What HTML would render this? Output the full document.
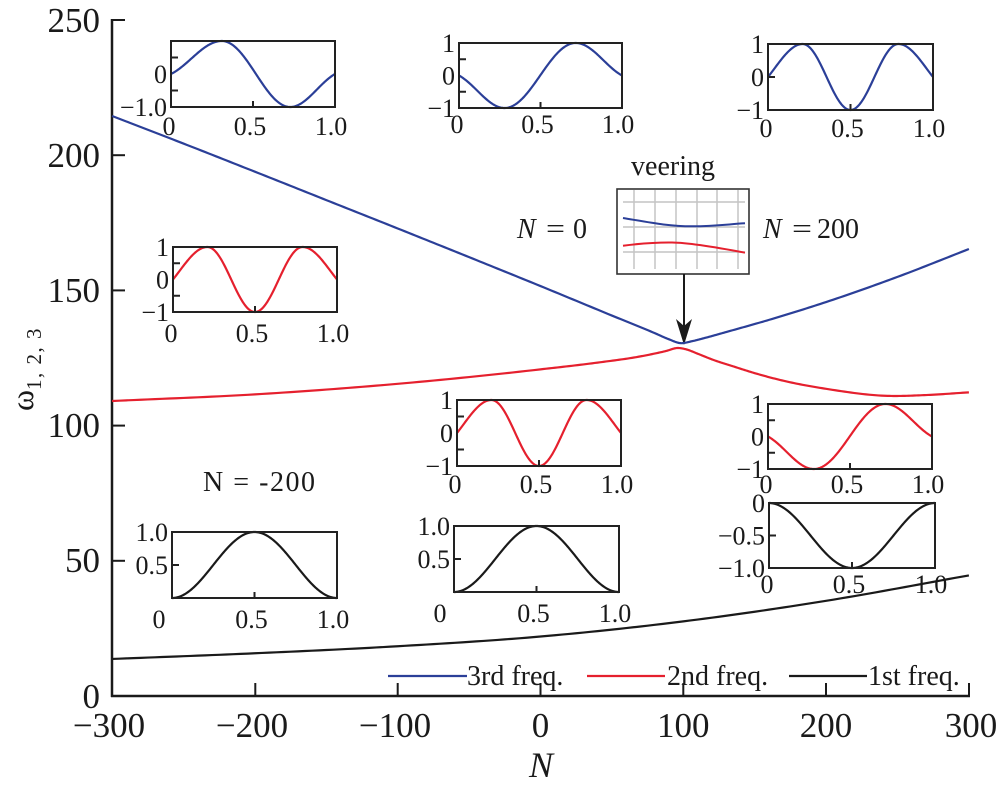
<!DOCTYPE html>
<html>
<head>
<meta charset="utf-8">
<style>
html,body{margin:0;padding:0;background:#fff;}
svg{display:block;}
text{font-family:"Liberation Serif","DejaVu Serif",serif;fill:#1a1a1a;}
</style>
</head>
<body>
<svg id="s" width="999" height="789" viewBox="0 0 999 789" xmlns="http://www.w3.org/2000/svg">
<rect x="0" y="0" width="999" height="789" fill="#fff"/>
<!-- axes -->
<g stroke="#1a1a1a" stroke-width="2.5" fill="none">
<line x1="112" y1="19" x2="112" y2="697"/>
<line x1="111" y1="696" x2="970" y2="696"/>
</g>
<g stroke="#1a1a1a" stroke-width="2" fill="none">
<line x1="112" y1="20" x2="125" y2="20"/>
<line x1="112" y1="155.2" x2="125" y2="155.2"/>
<line x1="112" y1="290.4" x2="125" y2="290.4"/>
<line x1="112" y1="425.6" x2="125" y2="425.6"/>
<line x1="112" y1="560.8" x2="125" y2="560.8"/>
<line x1="255.3" y1="696" x2="255.3" y2="683"/>
<line x1="397.7" y1="696" x2="397.7" y2="683"/>
<line x1="540.5" y1="696" x2="540.5" y2="683"/>
<line x1="683.3" y1="696" x2="683.3" y2="683"/>
<line x1="826" y1="696" x2="826" y2="683"/>
<line x1="969" y1="696" x2="969" y2="683"/>
</g>
<g font-size="35" text-anchor="end">
<text x="100" y="32">250</text>
<text x="100" y="167">200</text>
<text x="100" y="302">150</text>
<text x="100" y="437">100</text>
<text x="100" y="572">50</text>
<text x="100" y="708">0</text>
</g>
<g font-size="35" text-anchor="middle">
<text x="109" y="737">−300</text>
<text x="252" y="737">−200</text>
<text x="395" y="737">−100</text>
<text x="540.5" y="737">0</text>
<text x="683.3" y="737">100</text>
<text x="826" y="737">200</text>
<text x="971" y="737">300</text>
</g>
<text x="541" y="777" font-size="36" font-style="italic" text-anchor="middle">N</text>
<text transform="translate(33,411) rotate(-90)" font-size="32">ω<tspan font-size="21" dy="8" letter-spacing="1.5">1, 2, 3</tspan></text>

<!-- legend -->
<g stroke-width="2.2">
<line x1="388" y1="676" x2="467" y2="676" stroke="#2b3f98"/>
<line x1="587" y1="676" x2="665" y2="676" stroke="#e5202e"/>
<line x1="789" y1="676" x2="867" y2="676" stroke="#1a1a1a"/>
</g>
<g font-size="28">
<text x="467" y="685">3rd freq.</text>
<text x="667" y="685">2nd freq.</text>
<text x="868" y="685">1st freq.</text>
</g>

<!-- annotations -->
<text x="673" y="175" font-size="28" text-anchor="middle">veering</text>
<text x="517" y="238" font-size="28" font-style="italic">N</text>
<text x="546" y="238" font-size="28" textLength="19" lengthAdjust="spacingAndGlyphs">=</text>
<text x="573" y="238" font-size="28">0</text>
<text x="763" y="238" font-size="28" font-style="italic">N</text>
<text x="792" y="238" font-size="28" textLength="20" lengthAdjust="spacingAndGlyphs">=</text>
<text x="817" y="238" font-size="28">200</text>
<text x="203" y="491" font-size="28" textLength="112" lengthAdjust="spacing">N = -200</text>

<!-- veering box -->
<rect x="617" y="189" width="132" height="85" fill="#fff" stroke="#333" stroke-width="1.6"/>
<g stroke="#c4c4c4" stroke-width="1.5">
<line x1="634" y1="190" x2="634" y2="269"/>
<line x1="655" y1="190" x2="655" y2="269"/>
<line x1="676" y1="190" x2="676" y2="269"/>
<line x1="697" y1="190" x2="697" y2="269"/>
<line x1="717" y1="190" x2="717" y2="269"/>
<line x1="738" y1="190" x2="738" y2="269"/>
<line x1="623" y1="202" x2="745" y2="202"/>
<line x1="623" y1="227" x2="745" y2="227"/>
<line x1="623" y1="252" x2="745" y2="252"/>
</g>
<path d="M623,218 C650,222.5 668,226.3 692,226.3 S730,224 745,223.3" fill="none" stroke="#2b3f98" stroke-width="2"/>
<path d="M623,245.7 C640,243.5 655,242.3 672,242.5 S715,247 745,252.7" fill="none" stroke="#e5202e" stroke-width="2"/>
<line x1="684" y1="274" x2="684" y2="326" stroke="#1a1a1a" stroke-width="2"/>
<polygon points="676,319 684,326 692,319 684,345" fill="#1a1a1a"/>

<g id="dyn"></g>
</svg>
<script>
(function(){
var NS='http://www.w3.org/2000/svg';
var g=document.getElementById('dyn');
function el(tag,attrs,text){var e=document.createElementNS(NS,tag);for(var k in attrs)e.setAttribute(k,attrs[k]);if(text!=null)e.textContent=text;g.appendChild(e);return e;}
function X(N){return 540.5+N*1.428;}
function Y(w){return 696-w*2.704;}
function herm(pts){
  var n=pts.length,m=[],i;
  for(i=0;i<n;i++){
    if(i==0)m.push((pts[1][1]-pts[0][1])/(pts[1][0]-pts[0][0]));
    else if(i==n-1)m.push((pts[n-1][1]-pts[n-2][1])/(pts[n-1][0]-pts[n-2][0]));
    else{
      var h0=pts[i][0]-pts[i-1][0],h1=pts[i+1][0]-pts[i][0];
      var d0=(pts[i][1]-pts[i-1][1])/h0,d1=(pts[i+1][1]-pts[i][1])/h1;
      m.push((d0*h1+d1*h0)/(h0+h1));
    }
  }
  var d='M'+X(pts[0][0]).toFixed(2)+','+Y(pts[0][1]).toFixed(2);
  for(i=0;i<n-1;i++){
    var x0=pts[i][0],x1=pts[i+1][0],y0=pts[i][1],y1=pts[i+1][1],h=x1-x0;
    for(var k=1;k<=20;k++){
      var t=k/20,t2=t*t,t3=t2*t;
      var v=(2*t3-3*t2+1)*y0+(t3-2*t2+t)*h*m[i]+(-2*t3+3*t2)*y1+(t3-t2)*h*m[i+1];
      d+=' L'+X(x0+h*t).toFixed(2)+','+Y(v).toFixed(2);
    }
  }
  return d;
}
var blue=[[-300,214.5],[-250,204.3],[-200,193.9],[-150,183.4],[-100,172.9],[-50,162.3],[0,151.6],[50,140.7],[80,134.2],[90,131.9],[98,130.5],[106,131.2],[115,132.4],[130,134.6],[160,139.1],[200,145.7],[250,155.0],[300,165.3]];
var red=[[-300,109.1],[-200,111.55],[-100,115.45],[0,120.8],[40,123.3],[70,125.6],[88,127.6],[96,128.7],[102,128.2],[110,126.6],[121,124.3],[135,121.9],[150,119.4],[170,116.6],[200,113.6],[243,111.0],[270,111.3],[300,112.3]];
var black=[[-300,13.7],[-200,15.8],[-100,18.4],[0,22.0],[100,27.6],[200,35.2],[300,44.6]];
el('path',{d:herm(blue),fill:'none',stroke:'#2b3f98','stroke-width':2.2});
el('path',{d:herm(red),fill:'none',stroke:'#e5202e','stroke-width':2.2});
el('path',{d:herm(black),fill:'none',stroke:'#1a1a1a','stroke-width':2.2});

function shape(pts,ext,w,t){
  for(var i=0;i<pts.length-1;i++){
    if(t<=pts[i+1][0]||i==pts.length-2){
      var s=(t-pts[i][0])/(pts[i+1][0]-pts[i][0]);var a=pts[i][1],b=pts[i+1][1],f;
      if(ext[i]&&ext[i+1])f=(1-Math.cos(Math.PI*s))/2;
      else if(!ext[i])f=w*Math.sin(Math.PI*s/2)+(1-w)*(1-Math.cos(Math.PI*s))/2;
      else f=w*(1-Math.cos(Math.PI*s/2))+(1-w)*(1-Math.cos(Math.PI*s))/2;
      return a+(b-a)*f;
    }
  }
  return 0;
}
var SH={
 A:{p:[[0,0],[0.31,1],[0.726,-1],[1,0]],e:[0,1,1,0],w:0.5},
 B:{p:[[0,0],[0.28,-1],[0.716,1],[1,0]],e:[0,1,1,0],w:0.5},
 C:{p:[[0,0],[0.21,1],[0.5,-1],[0.79,1],[1,0]],e:[0,1,1,1,0],w:0.85},
 D:{p:[[0,0],[0.5,1],[1,0]],e:[1,1,1],w:0},
 E:{p:[[0,0],[0.5,-1],[1,0]],e:[1,1,1],w:0}
};
function inset(o){
  var x0=o.b[0],y0=o.b[1],x1=o.b[2],y1=o.b[3];
  function yy(v){return y1-(v-o.r[0])/(o.r[1]-o.r[0])*(y1-y0);}
  var s=SH[o.s],d='';
  for(var k=0;k<=160;k++){var t=k/160;var v=shape(s.p,s.e,s.w,t);d+=(k?' L':'M')+(x0+t*(x1-x0)).toFixed(2)+','+yy(v).toFixed(2);}
  el('path',{d:d,fill:'none',stroke:o.c,'stroke-width':2.2});
  el('rect',{x:x0,y:y0,width:x1-x0,height:y1-y0,fill:'none',stroke:'#222','stroke-width':2});
  o.t.forEach(function(v){el('line',{x1:x0,y1:yy(v),x2:x0+7,y2:yy(v),stroke:'#222','stroke-width':2});});
  var xm=(x0+x1)/2;
  el('line',{x1:xm,y1:y1,x2:xm,y2:y1-6,stroke:'#222','stroke-width':2});
  o.l.forEach(function(L){el('text',{x:x0-4,y:yy(L[0])+9,'font-size':26,'text-anchor':'end'},L[1]);});
  var by=y1+o.o;
  el('text',{x:x0-2+(o.z||0),y:by,'font-size':26,'text-anchor':'middle'},'0');
  el('text',{x:xm-3,y:by,'font-size':26,'text-anchor':'middle'},'0.5');
  el('text',{x:x1-4,y:by,'font-size':26,'text-anchor':'middle'},'1.0');
}
var B='#2b3f98',R='#e5202e',K='#1a1a1a';
var L3=[[1,'1'],[0,'0'],[-1,'−1']];
inset({b:[171,41,335,107],r:[-1,1],s:'A',c:B,l:[[0,'0'],[-1,'−1.0']],t:[0.5,-0.5],o:28});
inset({b:[459,43,622,108],r:[-1,1],s:'B',c:B,l:L3,t:[0.5,-0.5],o:25});
inset({b:[768,44,933,110],r:[-1,1],s:'C',c:B,l:L3,t:[0],o:27});
inset({b:[173,247,337,312],r:[-1,1],s:'C',c:R,l:L3,t:[0.5,-0.5],o:30});
inset({b:[457,400,621,466],r:[-1,1],s:'C',c:R,l:L3,t:[0.5,-0.5],o:27});
inset({b:[768,404,932,469],r:[-1,1],s:'B',c:R,l:L3,t:[0.5,-0.5],o:24});
inset({b:[172,532,337,598],r:[0,1],s:'D',c:K,l:[[1,'1.0'],[0.5,'0.5']],t:[0.5],o:30,z:-11});
inset({b:[454,526,619,592],r:[0,1],s:'D',c:K,l:[[1,'1.0'],[0.5,'0.5']],t:[0.5],o:30,z:-12});
inset({b:[769,503,935,568],r:[-1,0],s:'E',c:K,l:[[0,'0'],[-0.5,'−0.5'],[-1,'−1.0']],t:[-0.5],o:25});
})();
</script>
</body>
</html>
